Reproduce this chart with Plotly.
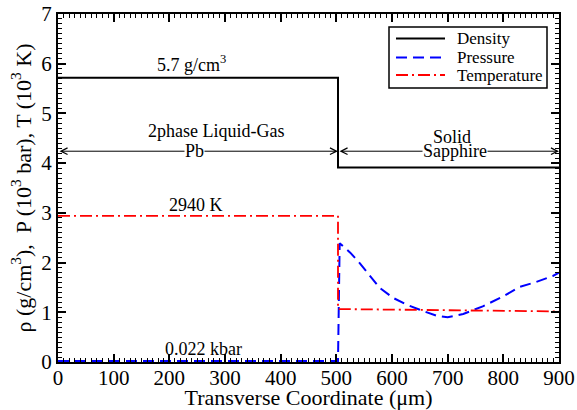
import plotly.graph_objects as go

# ---- data ----
density_x = [0, 503, 503, 900]
density_y = [5.72, 5.72, 3.91, 3.91]

pressure_x = [0, 100, 200, 300, 400, 500, 503, 506, 525, 542, 560, 578, 602, 625, 650, 680,
              700, 728, 763, 800, 829, 859, 889, 900]
pressure_y = [0.022, 0.022, 0.022, 0.022, 0.022, 0.022, 0.022, 2.39, 2.20, 1.99, 1.73, 1.49,
              1.29, 1.16, 1.05, 0.93, 0.90, 0.965, 1.12, 1.32, 1.51, 1.61, 1.73, 1.80]

temperature_x = [0, 503, 503, 900]
temperature_y = [2.94, 2.94, 1.065, 1.017]

x_ticks = [0, 100, 200, 300, 400, 500, 600, 700, 800, 900]
y_ticks = [0, 1, 2, 3, 4, 5, 6, 7]

FONT = "Liberation Serif"

# plot-area geometry (pixels) used only for placing the hand-made legend
L, R, T, B = 58, 559, 14, 362
W, H = R - L, B - T
def px(x):
    return (x - L) / W
def py(y):
    return (B - y) / H

names = ["Density", "Pressure", "Temperature"]
colors = ["black", "blue", "red"]
dashes = ["solid", "11px,6px", "12px,4px,2px,4px"]
widths = [2, 2, 1.8]

fig = go.Figure()
fig.add_trace(go.Scatter(x=density_x, y=density_y, mode="lines", name=names[0],
                         line=dict(color=colors[0], width=widths[0], dash=dashes[0])))
fig.add_trace(go.Scatter(x=pressure_x, y=pressure_y, mode="lines", name=names[1],
                         line=dict(color=colors[1], width=widths[1], dash=dashes[1])))
fig.add_trace(go.Scatter(x=temperature_x, y=temperature_y, mode="lines", name=names[2],
                         line=dict(color=colors[2], width=widths[2], dash=dashes[2])))
# invisible trace to activate mirrored tick axes (top/right) carrying minor ticks
fig.add_trace(go.Scatter(x=[0], y=[0], xaxis="x2", yaxis="y2", mode="markers",
                         marker=dict(opacity=0), hoverinfo="skip", showlegend=False))

ann = []
for x0, x1 in [(0, 503), (503, 900)]:
    ann.append(dict(x=x1, y=4.24, ax=x0, ay=4.24, xref="x", yref="y", axref="x", ayref="y",
                    text="", showarrow=True, arrowhead=5, startarrowhead=5,
                    arrowside="end+start", arrowwidth=1, arrowsize=1.3,
                    startarrowsize=1.3, arrowcolor="black", standoff=0, startstandoff=0))

def txt(x, y, s, bg=None, size=18, xref="x", yref="y", xanchor="center"):
    d = dict(x=x, y=y, xref=xref, yref=yref, text=s, showarrow=False,
             xanchor=xanchor, yanchor="middle",
             font=dict(family=FONT, size=size, color="black"))
    if bg:
        d.update(bgcolor=bg, borderpad=0)
    return d

ann += [
    txt(240, 6.0, "5.7 g/cm<sup>3</sup>"),
    txt(283, 4.64, "2phase Liquid-Gas"),
    txt(246, 4.24, "Pb", bg="white"),
    txt(714, 4.24, "Sapphire", bg="white"),
    txt(707, 4.53, "Solid"),
    txt(248, 3.15, "2940 K"),
    txt(262, 0.27, "0.022 kbar"),
]

# hand-made legend
shapes = [dict(type="rect", xref="paper", yref="paper", x0=px(389), x1=px(547),
               y0=py(88), y1=py(27), line=dict(color="black", width=1.5),
               fillcolor="white", layer="above")]
leg_y = [38.5, 57.5, 75]
for n, c, d, w, yy in zip(names, colors, dashes, widths, leg_y):
    shapes.append(dict(type="line", xref="paper", yref="paper", x0=px(396), x1=px(445),
                       y0=py(yy), y1=py(yy), line=dict(color=c, width=w, dash=d), layer="above"))
    ann.append(txt(px(455), py(yy), n, size=17, xref="paper", yref="paper", xanchor="left"))

axis_common = dict(
    showgrid=False, zeroline=False, showline=True, linecolor="black", linewidth=2,
    ticks="inside", ticklen=8, tickwidth=1.5, tickcolor="black", automargin=False,
    tickfont=dict(family=FONT, size=21, color="black"),
)

fig.update_layout(
    xaxis=dict(**axis_common, range=[0, 900], tickvals=x_ticks, mirror=True,
               ticklabelstandoff=-4,
               minor=dict(ticks="inside", dtick=10, ticklen=4, tickcolor="black", tickwidth=1),
               title=dict(text="Transverse Coordinate (μm)",
                          font=dict(family=FONT, size=22, color="black"), standoff=0)),
    yaxis=dict(**axis_common, range=[0, 7], tickvals=y_ticks, mirror=True,
               minor=dict(ticks="inside", dtick=0.1, ticklen=4, tickcolor="black", tickwidth=1),
               title=dict(text="ρ (g/cm<sup>3</sup>),  P (10<sup>3</sup> bar), T (10<sup>3</sup> K)",
                          font=dict(family=FONT, size=22, color="black"), standoff=4)),
    xaxis2=dict(overlaying="x", side="top", range=[0, 900], tickvals=x_ticks,
                ticks="inside", ticklen=8, tickwidth=1.5, tickcolor="black",
                showticklabels=False, showgrid=False, zeroline=False, showline=False,
                automargin=False,
                minor=dict(ticks="inside", dtick=10, ticklen=4, tickcolor="black", tickwidth=1)),
    yaxis2=dict(overlaying="y", side="right", range=[0, 7], tickvals=y_ticks,
                ticks="inside", ticklen=8, tickwidth=1.5, tickcolor="black",
                showticklabels=False, showgrid=False, zeroline=False, showline=False,
                automargin=False,
                minor=dict(ticks="inside", dtick=0.1, ticklen=4, tickcolor="black", tickwidth=1)),
    width=577, height=410,
    margin=dict(l=L, r=577 - R, t=T, b=410 - B),
    paper_bgcolor="white", plot_bgcolor="white",
    showlegend=False,
    annotations=ann,
    shapes=shapes,
)

fig.write_html("out.html", config={"displayModeBar": False},
               post_script="document.body.style.margin='0';document.body.style.padding='0';")
